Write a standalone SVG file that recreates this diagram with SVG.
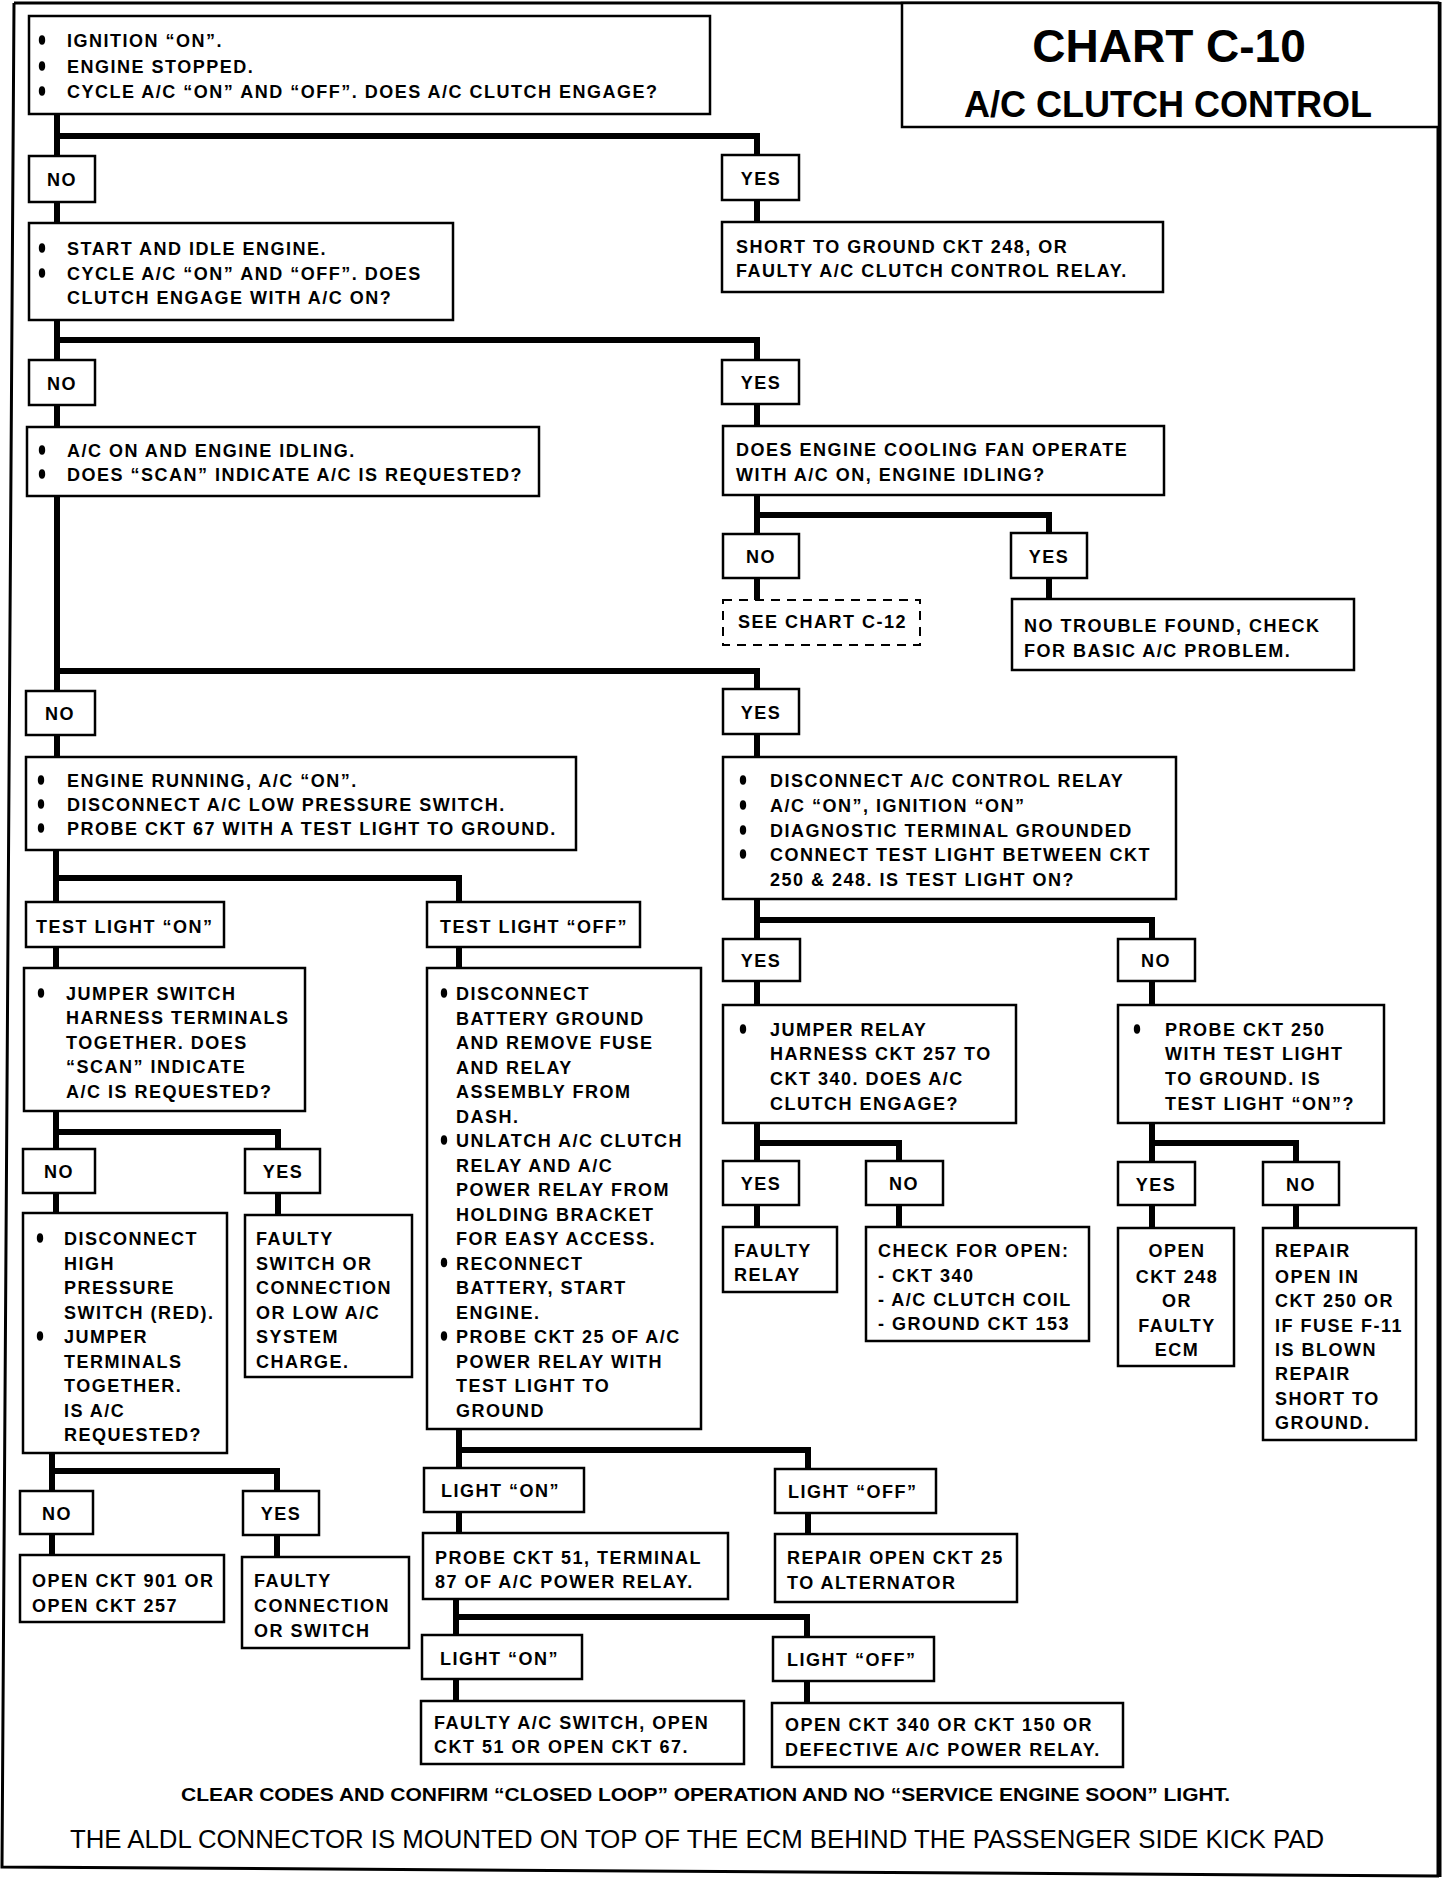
<svg xmlns="http://www.w3.org/2000/svg" width="1456" height="1882" viewBox="0 0 1456 1882">
<style>
.bx{fill:#fff;stroke:#000;stroke-width:2.5}
.dash{fill:#fff;stroke:#000;stroke-width:2;stroke-dasharray:9 7}
.cn{fill:none;stroke:#000;stroke-width:6;stroke-linecap:square;stroke-linejoin:miter}
.fr{fill:none;stroke:#000;stroke-width:3}
text{font-family:"Liberation Sans",Arial,sans-serif;font-weight:bold;font-size:18px;letter-spacing:1.5px;fill:#000}
.m{text-anchor:middle}
.ttl{font-size:46px;letter-spacing:0}
.sub{font-size:36px;letter-spacing:0}
.f1{font-size:19px;letter-spacing:0}
.f2{font-size:25px;font-weight:normal;letter-spacing:0}
</style>
<defs>
<ellipse id="bu" cx="0" cy="0" rx="3.2" ry="4.8" fill="#000"/>
</defs>
<g id="frame">
<path class="fr" d="M14 3H1439M14 3L2 1867L1439 1876"/>
<path d="M1439 2V1877" stroke="#000" stroke-width="5" fill="none"/>
</g>

<g id="connectors">
<path class="cn" d="M57 114V156M57 136H757V155M57 202V223M757 200V222"/>
<path class="cn" d="M57 320V360M57 340H757V360M57 405V427M757 404V426"/>
<path class="cn" d="M757 495V534M757 515H1049V533M757 578V600M1049 578V599"/>
<path class="cn" d="M57 496V691M57 671H757V689M57 735V757M757 734V757"/>
<path class="cn" d="M757 899V939M757 920H1152V939M757 981V1005M1152 981V1005"/>
<path class="cn" d="M757 1123V1161M757 1143H899V1161M757 1205V1227M899 1205V1227"/>
<path class="cn" d="M1152 1123V1162M1152 1143H1296V1162M1152 1205V1228M1296 1205V1228"/>
<path class="cn" d="M56 850V902M56 878H459V902M56 947V968M459 947V968"/>
<path class="cn" d="M56 1111V1149M56 1132H278V1149M56 1193V1213M278 1193V1215"/>
<path class="cn" d="M52 1453V1491M52 1471H277V1491M52 1534V1555M277 1535V1557"/>
<path class="cn" d="M459 1429V1468M459 1450H808V1469M459 1512V1533M808 1513V1534"/>
<path class="cn" d="M456 1599V1635M456 1617H807V1637M456 1679V1701M807 1681V1703"/>
</g>

<g id="title">
<rect class="bx" x="902" y="3" width="537" height="124"/>
<text class="ttl m" x="1169" y="62">CHART C-10</text>
<text class="sub m" x="1168" y="117">A/C CLUTCH CONTROL</text>
</g>

<g id="nA"><rect class="bx" x="29" y="16" width="681" height="98"/>
<use href="#bu" x="42" y="40"/><text x="67" y="47">IGNITION “ON”.</text>
<use href="#bu" x="42" y="66"/><text x="67" y="73">ENGINE STOPPED.</text>
<use href="#bu" x="42" y="91"/><text x="67" y="98">CYCLE A/C “ON” AND “OFF”. DOES A/C CLUTCH ENGAGE?</text></g>

<g id="no1"><rect class="bx" x="29" y="156" width="66" height="46"/><text class="m" x="62" y="186">NO</text></g>
<g id="yes1"><rect class="bx" x="722" y="155" width="77" height="45"/><text class="m" x="761" y="185">YES</text></g>

<g id="nB"><rect class="bx" x="29" y="223" width="424" height="97"/>
<use href="#bu" x="42" y="248"/><text x="67" y="255">START AND IDLE ENGINE.</text>
<use href="#bu" x="42" y="273"/><text x="67" y="280">CYCLE A/C “ON” AND “OFF”. DOES</text>
<text x="67" y="304">CLUTCH ENGAGE WITH A/C ON?</text></g>

<g id="nC"><rect class="bx" x="722" y="222" width="441" height="70"/>
<text x="736" y="253">SHORT TO GROUND CKT 248, OR</text>
<text x="736" y="277">FAULTY A/C CLUTCH CONTROL RELAY.</text></g>

<g id="no2"><rect class="bx" x="29" y="360" width="66" height="45"/><text class="m" x="62" y="390">NO</text></g>
<g id="yes2"><rect class="bx" x="722" y="360" width="77" height="44"/><text class="m" x="761" y="389">YES</text></g>

<g id="nD"><rect class="bx" x="27" y="427" width="512" height="69"/>
<use href="#bu" x="42" y="450"/><text x="67" y="457">A/C ON AND ENGINE IDLING.</text>
<use href="#bu" x="42" y="474"/><text x="67" y="481">DOES “SCAN” INDICATE A/C IS REQUESTED?</text></g>

<g id="nE"><rect class="bx" x="723" y="426" width="441" height="69"/>
<text x="736" y="456">DOES ENGINE COOLING FAN OPERATE</text>
<text x="736" y="481">WITH A/C ON, ENGINE IDLING?</text></g>

<g id="noE"><rect class="bx" x="723" y="534" width="76" height="44"/><text class="m" x="761" y="563">NO</text></g>
<g id="yesE"><rect class="bx" x="1011" y="533" width="76" height="45"/><text class="m" x="1049" y="563">YES</text></g>

<g id="nSee"><rect class="dash" x="723" y="600" width="197" height="45"/>
<text x="738" y="628">SEE CHART C-12</text></g>

<g id="nF"><rect class="bx" x="1012" y="599" width="342" height="71"/>
<text x="1024" y="632">NO TROUBLE FOUND, CHECK</text>
<text x="1024" y="657">FOR BASIC A/C PROBLEM.</text></g>

<g id="no3"><rect class="bx" x="26" y="691" width="69" height="44"/><text class="m" x="60" y="720">NO</text></g>
<g id="yes3"><rect class="bx" x="723" y="689" width="76" height="45"/><text class="m" x="761" y="719">YES</text></g>

<g id="nG"><rect class="bx" x="26" y="757" width="550" height="93"/>
<use href="#bu" x="41" y="780"/><text x="67" y="787">ENGINE RUNNING, A/C “ON”.</text>
<use href="#bu" x="41" y="804"/><text x="67" y="811">DISCONNECT A/C LOW PRESSURE SWITCH.</text>
<use href="#bu" x="41" y="828"/><text x="67" y="835">PROBE CKT 67 WITH A TEST LIGHT TO GROUND.</text></g>

<g id="nH"><rect class="bx" x="723" y="757" width="453" height="142"/>
<use href="#bu" x="743" y="780"/><text x="770" y="787">DISCONNECT A/C CONTROL RELAY</text>
<use href="#bu" x="743" y="805"/><text x="770" y="812">A/C “ON”, IGNITION “ON”</text>
<use href="#bu" x="743" y="830"/><text x="770" y="837">DIAGNOSTIC TERMINAL GROUNDED</text>
<use href="#bu" x="743" y="854"/><text x="770" y="861">CONNECT TEST LIGHT BETWEEN CKT</text>
<text x="770" y="886">250 &amp; 248.  IS TEST LIGHT ON?</text></g>

<g id="tlOn"><rect class="bx" x="26" y="902" width="198" height="45"/><text x="36" y="933">TEST LIGHT “ON”</text></g>
<g id="tlOff"><rect class="bx" x="427" y="902" width="213" height="45"/><text x="440" y="933">TEST LIGHT “OFF”</text></g>

<g id="nI"><rect class="bx" x="24" y="968" width="281" height="143"/>
<use href="#bu" x="41" y="993"/><text x="66" y="1000">JUMPER SWITCH</text>
<text x="66" y="1024">HARNESS TERMINALS</text>
<text x="66" y="1049">TOGETHER.  DOES</text>
<text x="66" y="1073">“SCAN” INDICATE</text>
<text x="66" y="1098">A/C IS REQUESTED?</text></g>

<g id="nJ"><rect class="bx" x="427" y="968" width="274" height="461"/>
<use href="#bu" x="444" y="993"/><text x="456" y="1000">DISCONNECT</text>
<text x="456" y="1024.5">BATTERY GROUND</text>
<text x="456" y="1049">AND REMOVE FUSE</text>
<text x="456" y="1073.5">AND RELAY</text>
<text x="456" y="1098">ASSEMBLY FROM</text>
<text x="456" y="1122.5">DASH.</text>
<use href="#bu" x="444" y="1140"/><text x="456" y="1147">UNLATCH A/C CLUTCH</text>
<text x="456" y="1171.5">RELAY AND A/C</text>
<text x="456" y="1196">POWER RELAY FROM</text>
<text x="456" y="1220.5">HOLDING BRACKET</text>
<text x="456" y="1245">FOR EASY ACCESS.</text>
<use href="#bu" x="444" y="1262.5"/><text x="456" y="1269.5">RECONNECT</text>
<text x="456" y="1294">BATTERY, START</text>
<text x="456" y="1318.5">ENGINE.</text>
<use href="#bu" x="444" y="1336"/><text x="456" y="1343">PROBE CKT 25 OF A/C</text>
<text x="456" y="1367.5">POWER RELAY WITH</text>
<text x="456" y="1392">TEST LIGHT TO</text>
<text x="456" y="1416.5">GROUND</text></g>

<g id="no7"><rect class="bx" x="23" y="1149" width="72" height="44"/><text class="m" x="59" y="1178">NO</text></g>
<g id="yes7"><rect class="bx" x="245" y="1149" width="75" height="44"/><text class="m" x="283" y="1178">YES</text></g>

<g id="nK"><rect class="bx" x="23" y="1213" width="204" height="240"/>
<use href="#bu" x="40" y="1238"/><text x="64" y="1245">DISCONNECT</text>
<text x="64" y="1269.5">HIGH</text>
<text x="64" y="1294">PRESSURE</text>
<text x="64" y="1318.5">SWITCH (RED).</text>
<use href="#bu" x="40" y="1336"/><text x="64" y="1343">JUMPER</text>
<text x="64" y="1367.5">TERMINALS</text>
<text x="64" y="1392">TOGETHER.</text>
<text x="64" y="1416.5">IS A/C</text>
<text x="64" y="1441">REQUESTED?</text></g>

<g id="nL"><rect class="bx" x="245" y="1215" width="167" height="162"/>
<text x="256" y="1245">FAULTY</text>
<text x="256" y="1269.5">SWITCH OR</text>
<text x="256" y="1294">CONNECTION</text>
<text x="256" y="1318.5">OR LOW A/C</text>
<text x="256" y="1343">SYSTEM</text>
<text x="256" y="1367.5">CHARGE.</text></g>

<g id="no8"><rect class="bx" x="20" y="1491" width="73" height="43"/><text class="m" x="57" y="1520">NO</text></g>
<g id="yes8"><rect class="bx" x="243" y="1491" width="76" height="44"/><text class="m" x="281" y="1520">YES</text></g>

<g id="nM"><rect class="bx" x="20" y="1555" width="204" height="67"/>
<text x="32" y="1587">OPEN CKT 901 OR</text>
<text x="32" y="1612">OPEN CKT 257</text></g>

<g id="nN"><rect class="bx" x="242" y="1557" width="167" height="91"/>
<text x="254" y="1587">FAULTY</text>
<text x="254" y="1612">CONNECTION</text>
<text x="254" y="1637">OR SWITCH</text></g>

<g id="yes4"><rect class="bx" x="723" y="939" width="77" height="42"/><text class="m" x="761" y="967">YES</text></g>
<g id="no4"><rect class="bx" x="1118" y="939" width="77" height="42"/><text class="m" x="1156" y="967">NO</text></g>

<g id="nS"><rect class="bx" x="723" y="1005" width="293" height="118"/>
<use href="#bu" x="743" y="1029"/><text x="770" y="1036">JUMPER RELAY</text>
<text x="770" y="1060">HARNESS CKT 257 TO</text>
<text x="770" y="1085">CKT 340.  DOES A/C</text>
<text x="770" y="1110">CLUTCH ENGAGE?</text></g>

<g id="nT"><rect class="bx" x="1118" y="1005" width="266" height="118"/>
<use href="#bu" x="1137" y="1029"/><text x="1165" y="1036">PROBE CKT 250</text>
<text x="1165" y="1060">WITH TEST LIGHT</text>
<text x="1165" y="1085">TO GROUND.  IS</text>
<text x="1165" y="1110">TEST LIGHT “ON”?</text></g>

<g id="yes5"><rect class="bx" x="723" y="1161" width="76" height="44"/><text class="m" x="761" y="1190">YES</text></g>
<g id="no5"><rect class="bx" x="866" y="1161" width="77" height="44"/><text class="m" x="904" y="1190">NO</text></g>

<g id="nU"><rect class="bx" x="723" y="1227" width="114" height="65"/>
<text x="734" y="1257">FAULTY</text>
<text x="734" y="1281">RELAY</text></g>

<g id="nV"><rect class="bx" x="866" y="1227" width="223" height="114"/>
<text x="878" y="1257">CHECK FOR OPEN:</text>
<text x="878" y="1282">- CKT 340</text>
<text x="878" y="1306">- A/C CLUTCH COIL</text>
<text x="878" y="1330">- GROUND CKT 153</text></g>

<g id="yes6"><rect class="bx" x="1118" y="1162" width="77" height="43"/><text class="m" x="1156" y="1191">YES</text></g>
<g id="no6"><rect class="bx" x="1263" y="1162" width="76" height="43"/><text class="m" x="1301" y="1191">NO</text></g>

<g id="nW"><rect class="bx" x="1118" y="1228" width="116" height="138"/>
<text class="m" x="1177" y="1257">OPEN</text>
<text class="m" x="1177" y="1283">CKT 248</text>
<text class="m" x="1177" y="1307">OR</text>
<text class="m" x="1177" y="1332">FAULTY</text>
<text class="m" x="1177" y="1356">ECM</text></g>

<g id="nX"><rect class="bx" x="1263" y="1228" width="153" height="212"/>
<text x="1275" y="1257">REPAIR</text>
<text x="1275" y="1283">OPEN IN</text>
<text x="1275" y="1307">CKT 250 OR</text>
<text x="1275" y="1332">IF FUSE F-11</text>
<text x="1275" y="1356">IS BLOWN</text>
<text x="1275" y="1380">REPAIR</text>
<text x="1275" y="1405">SHORT TO</text>
<text x="1275" y="1429">GROUND.</text></g>

<g id="lOn2"><rect class="bx" x="424" y="1468" width="160" height="44"/><text x="441" y="1497">LIGHT “ON”</text></g>
<g id="lOff2"><rect class="bx" x="775" y="1469" width="161" height="44"/><text x="788" y="1498">LIGHT “OFF”</text></g>

<g id="nO"><rect class="bx" x="423" y="1533" width="305" height="66"/>
<text x="435" y="1564">PROBE CKT 51, TERMINAL</text>
<text x="435" y="1588">87 OF A/C POWER RELAY.</text></g>

<g id="nP"><rect class="bx" x="775" y="1534" width="242" height="68"/>
<text x="787" y="1564">REPAIR OPEN CKT 25</text>
<text x="787" y="1589">TO ALTERNATOR</text></g>

<g id="lOn3"><rect class="bx" x="422" y="1635" width="160" height="44"/><text x="440" y="1665">LIGHT “ON”</text></g>
<g id="lOff3"><rect class="bx" x="773" y="1637" width="161" height="44"/><text x="787" y="1666">LIGHT “OFF”</text></g>

<g id="nQ"><rect class="bx" x="421" y="1701" width="323" height="63"/>
<text x="434" y="1729">FAULTY A/C SWITCH, OPEN</text>
<text x="434" y="1753">CKT 51 OR OPEN CKT 67.</text></g>

<g id="nR"><rect class="bx" x="772" y="1703" width="351" height="64"/>
<text x="785" y="1731">OPEN CKT 340 OR CKT 150 OR</text>
<text x="785" y="1756">DEFECTIVE A/C POWER RELAY.</text></g>

<g id="footer">
<text class="f1" x="181" y="1801" textLength="1049" lengthAdjust="spacingAndGlyphs">CLEAR CODES AND CONFIRM “CLOSED LOOP” OPERATION AND NO “SERVICE ENGINE SOON” LIGHT.</text>
<text class="f2" x="70" y="1848" textLength="1254" lengthAdjust="spacingAndGlyphs">THE ALDL CONNECTOR IS MOUNTED ON TOP OF THE ECM BEHIND THE PASSENGER SIDE KICK PAD</text>
</g>
</svg>
